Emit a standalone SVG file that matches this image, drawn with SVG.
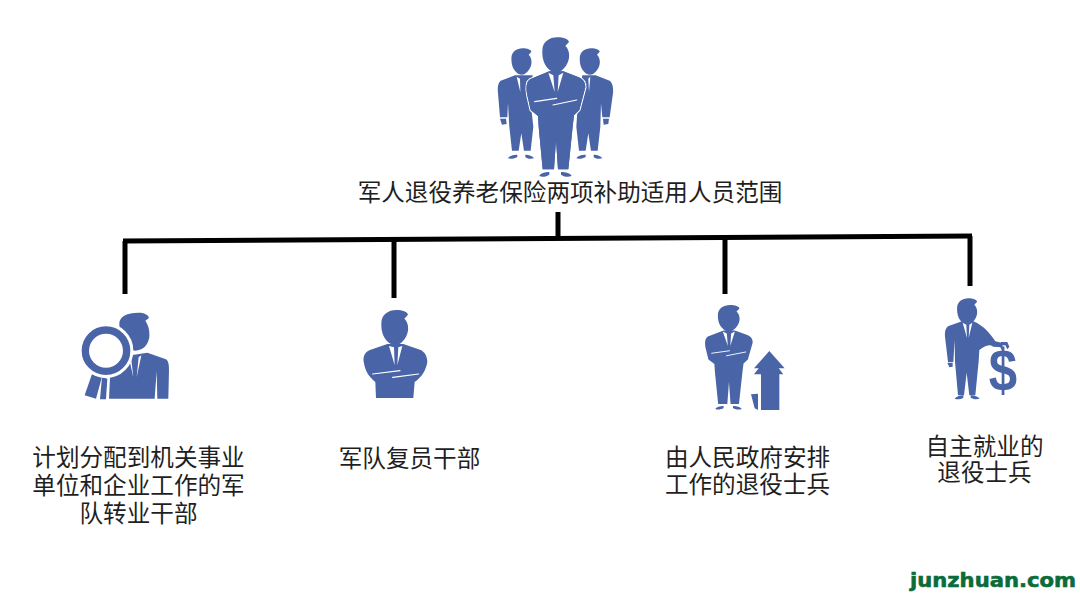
<svg xmlns="http://www.w3.org/2000/svg" width="1080" height="596" viewBox="0 0 1080 596">
<style>
.t{font-family:"Noto Sans CJK SC","Noto Sans",sans-serif;font-size:23.6px;fill:#1f1f1f;text-anchor:middle}
.c{fill:none;stroke:#000;stroke-width:5}
.b{fill:#4a64a8}
.h{fill:#4a64a8;stroke:#fff;stroke-width:7;paint-order:stroke;stroke-linejoin:round}
.w{fill:#fff}
.l{fill:none;stroke:#fff;stroke-width:3.5;stroke-linecap:round}
.wm{font-family:"DejaVu Sans",sans-serif;font-weight:bold;font-size:20px;fill:#0b6b3a;stroke:#0b6b3a;stroke-width:.6}
</style>
<defs>
<path id="head" d="M187 62C187 36 208 22 232 22C250 22 266 28 267 36L256 48C265 56 269 70 267 84C263 108 244 128 228 128C212 128 193 108 189 86C187 78 187 70 187 62Z"/>
<g id="crossed">
<use href="#head"/>
<path d="M208 124L150 148C138 156 138 176 142 196L152 240L174 258L176 290L188 418L222 418L228 330L234 418L265 418L278 290L282 256L298 240L316 172C316 154 306 146 296 142L250 124Z"/>
<path d="M178 438C180 430 196 426 208 426L208 434C200 440 186 442 178 438ZM243 426C256 426 272 430 275 438C264 442 250 440 243 434Z"/>
<path class="w" d="M205 128L224 186L220 136ZM250 128L233 186L236 136Z"/>
<path class="l" d="M164 215L230 205M219 225L290 210" stroke-width="4"/>
</g>
<g id="side">
<use href="#head" transform="translate(-46 38) scale(.75)"/>
<path d="M105 136L62 152C54 158 52 172 54 190L60 262L82 262L84 220L88 290L96 362L116 362L124 310L132 362L152 362L160 290L150 200L158 136Z"/>
<path d="M60 266L78 266L80 282L66 284ZM84 385C88 376 104 374 112 374L112 381C104 386 92 388 84 385ZM136 374C146 374 158 378 162 385C152 388 140 386 136 381Z"/>
<path class="w" d="M110 140L121 186L120 146Z"/>
</g>
</defs>
<g id="connectors">
<path class="c" d="M123 241L972 236"/>
<path class="c" d="M558 212V238"/>
<path class="c" d="M125 241V294"/>
<path class="c" d="M394 240V298"/>
<path class="c" d="M725 238V294"/>
<path class="c" d="M970 236V286"/>
</g>
<g id="node-root">
<g transform="translate(480 30) scale(.3333)" class="b">
<use href="#side"/>
<g transform="translate(205 0)"><use href="#head" transform="translate(-46 38) scale(.75)"/>
<path d="M105 136L102 136L90 200L84 290L92 362L112 362L120 310L128 362L148 362L156 290L158 220L162 262L184 262L194 190C196 172 192 158 184 152L142 136Z"/>
<path d="M164 266L182 266L180 282L166 284ZM84 385C88 376 104 374 112 374L112 381C104 386 92 388 84 385ZM136 374C146 374 158 378 162 385C152 388 140 386 136 381Z"/>
<path class="w" d="M126 140L122 186L120 146Z"/></g>
<path class="h" stroke-width="14" d="M208 124L150 148C138 156 138 176 142 196L152 240L174 258L176 290L188 418L222 418L228 330L234 418L265 418L278 290L282 256L298 240L316 172C316 154 306 146 296 142L250 124Z"/>
<use href="#crossed"/>
</g>
<text class="t" x="570" y="201">军人退役养老保险两项补助适用人员范围</text>
</g>
<g id="node-1">
<g transform="translate(70 300) scale(.3333)" class="b">
<path d="M148 70C148 50 172 38 205 38C222 38 236 44 237 54L226 62C234 74 240 90 238 112C234 136 218 152 196 152C172 152 148 110 148 70Z"/>
<path d="M168 168L232 158L288 178C296 184 297 196 297 210L295 296L262 296L260 214L254 296L115 296L118 230L160 210Z"/>
<path class="w" d="M176 170L190 232L183 170ZM214 166L200 232L206 172Z"/>
<path d="M66 222L96 230L78 296L44 286Z"/>
<path class="w" d="M104 226L120 232L117 298L88 298Z"/>
<path d="M96 232L112 236L108 298L90 298Z"/>
<circle cx="108" cy="152" r="64" fill="none" stroke="#fff" stroke-width="36"/>
<circle cx="108" cy="152" r="62" fill="none" stroke="#4a64a8" stroke-width="22"/>
<path class="l" d="M100 173L128 163"/>
</g>
<text class="t" x="138.500" y="466">计划分配到机关事业<tspan x="138.500" dy="28">单位和企业工作的军</tspan><tspan x="138.500" dy="28">队转业干部</tspan></text>
</g>
<g id="node-2">
<g transform="translate(350 300) scale(.3333)" class="b">
<use href="#head" transform="translate(-93 8)"/>
<path d="M112 132L60 150C42 158 38 172 42 190C46 214 56 230 76 246L78 294L190 294L194 246C214 232 228 212 232 186C232 168 224 156 212 150L160 132Z"/>
<path class="w" d="M117 138L134 196L132 142ZM157 138L142 196L145 142Z"/>
<path class="l" d="M68 222L150 212M128 232L206 222"/>
</g>
<text class="t" x="409.500" y="467">军队复员干部</text>
</g>
<g id="node-3">
<g transform="translate(667.4 299.500) scale(.27 .25)" class="b">
<use href="#crossed"/>
</g>
<g transform="translate(690 295) scale(.3333)" class="b">
<path d="M238 168L284 220L266 220L280 238L268 238L268 345L213 345L213 238L192 238L206 220L192 220ZM183 298L204 296L204 345L194 340Z"/>
</g>
<text class="t" x="747.500" y="466">由人民政府安排<tspan x="747.500" dy="27">工作的退役士兵</tspan></text>
</g>
<g id="node-4">
<g transform="translate(930 290) scale(.3333)" class="b">
<use href="#head" transform="translate(-59 8) scale(.75)"/>
<path d="M96 94L56 108C46 114 44 126 45 140L54 216L70 216L74 150L75 215L84 316L102 316L110 248L118 316L136 316L146 214L148 180C162 170 176 160 190 170L214 172L214 158L196 154C180 130 162 108 130 94Z"/>
<path d="M52 218L68 218L68 230L58 232ZM74 326C80 318 92 316 100 316L100 323C92 328 80 329 74 326ZM122 316C134 316 144 320 149 326C138 329 128 327 122 323Z"/>
<path class="w" d="M98 98L111 144L109 104ZM127 98L116 144L118 104Z"/>
<path d="M210 170L213 156L232 156L238 170L232 178L226 166L218 166L216 180Z"/>
<text transform="translate(219 302) scale(.85 1)" text-anchor="middle" font-family="'Liberation Sans',sans-serif" font-weight="bold" font-size="180" class="b">$</text>
</g>
<text class="t" x="984.500" y="455">自主就业的<tspan x="984.500" dy="26">退役士兵</tspan></text>
</g>
<text class="wm" x="910" y="587" textLength="166" lengthAdjust="spacingAndGlyphs">junzhuan.com</text>
</svg>
